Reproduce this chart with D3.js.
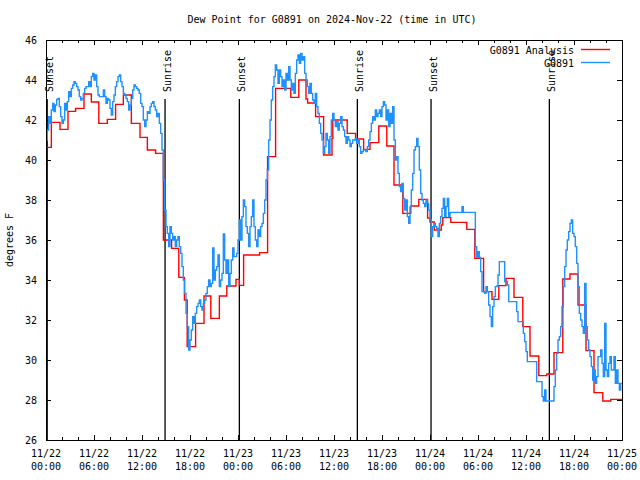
<!DOCTYPE html>
<html><head><meta charset="utf-8">
<script src="https://cdn.jsdelivr.net/npm/d3@7"></script>
<style>
body{margin:0;background:#fff}
svg text{font-family:"DejaVu Sans Mono","Liberation Mono",monospace;font-size:10px;fill:#000}
</style></head><body>
<svg id="chart" width="640" height="480"></svg>
<script>
// ---------- data ----------
const chartTitle = "Dew Point for G0891 on 2024-Nov-22 (time in UTC)";
const yAxisLabel = "degrees F";
const seriesNames = ["G0891 Analysis", "G0891"];
const seriesColors = ["#ff0000", "#1e90ff"];
const startUTC = Date.UTC(2024, 10, 22, 0, 0);
const endUTC = Date.UTC(2024, 10, 25, 0, 0);
const yTicks = [26, 28, 30, 32, 34, 36, 38, 40, 42, 44, 46];
const xTickHours = [0, 6, 12, 18, 24, 30, 36, 42, 48, 54, 60, 66, 72];
const xTickDates = ["11/22","11/22","11/22","11/22","11/23","11/23","11/23","11/23","11/24","11/24","11/24","11/24","11/25"];
const xTickTimes = ["00:00","06:00","12:00","18:00","00:00","06:00","12:00","18:00","00:00","06:00","12:00","18:00","00:00"];
const xMinorStepHours = 2;
const sunEventHours = [0.15, 14.88, 24.17, 38.92, 48.13, 62.92];
const sunEventLabels = ["Sunset", "Sunrise", "Sunset", "Sunrise", "Sunset", "Sunrise"];

// Analysis (hourly, stepped): hours since start, value
const analysisHours = [0, 0.67, 1.75, 2.75, 3.7, 4.75, 5.67, 6.6, 7.67, 8.7, 9.67, 10.67, 11.75, 12.67, 13.7,
  14.67, 15.7, 16.6, 17.3, 17.65, 18.7, 19.75, 20.6, 21.67, 22.6, 23.75, 24.17, 24.7, 26.7, 27.7, 28.7,
  30.6, 31.6, 32.5, 32.7, 33.7, 34.7, 35.75, 35.85, 37.65, 38.7, 39.7, 40.5, 41.6, 42.6, 43.5, 44.6, 45.6,
  46.6, 47.7, 48.0, 48.54, 49.4, 49.6, 50.6, 52.6, 53.6, 54.7, 55.75, 56.6, 57.5, 58.5, 59.6, 60.5,
  61.6, 62.6, 63.5, 64.6, 65.5, 66.5, 67.5, 68.5, 69.6, 70.6, 72];
const analysisValues = [40.63, 41.88, 41.53, 42.43, 42.58, 43.3, 42.9, 41.83, 42.03, 42.78, 43.25, 41.83, 41.13, 40.5, 40.33,
  36.0, 35.58, 34.13, 33.0, 30.67, 31.83, 33.2, 32.08, 33.2, 33.7, 34.03, 33.73, 35.25, 35.37, 40.17, 43.58,
  43.13, 44.0, 43.05, 42.85, 42.17, 40.25, 41.08, 42.0, 41.33, 41.05, 40.53, 40.87, 41.7, 40.7, 38.75, 37.33, 37.7,
  38.03, 37.1, 36.9, 36.5, 36.75, 37.12, 36.88, 36.53, 35.08, 33.42, 33.03, 33.72, 34.08, 33.13, 31.67, 30.2,
  29.22, 29.3, 30.37, 34.05, 34.3, 32.75, 30.47, 28.37, 27.95, 28.03, 28.03];

// Observations every 10 minutes from 00:00 UTC 11/22
const obsStepMinutes = 10;
const obsValues = [
  41.0, 41.5, 42.17, 41.83, 42.5, 42.83, 42.42, 42.75, 43.03, 43.08,
  42.67, 42.17, 41.83, 42.0, 42.83, 42.5, 42.92, 43.42, 43.17, 43.58,
  43.75, 43.92, 43.83, 43.67, 43.5, 43.17, 43.0, 43.08, 43.33, 43.58,
  43.67, 43.67, 43.92, 43.67, 44.17, 44.33, 44.0, 44.25, 43.67, 43.25,
  43.17, 43.17, 43.17, 43.5, 43.17, 42.83, 43.08, 43.0, 42.58, 42.25,
  42.92, 43.25, 43.67, 43.92, 44.17, 44.25, 43.92, 43.67, 43.33, 43.25,
  43.08, 42.92, 42.5, 42.75, 43.08, 43.5, 43.75, 43.67, 43.58, 43.5,
  43.33, 42.83, 42.67, 42.0, 41.67, 42.0, 42.42, 42.33, 42.67, 42.83,
  42.92, 42.67, 42.5, 42.17, 42.33, 41.83,
  41.33, 40.5, 39.0, 37.5, 36.67, 36.33, 35.67, 36.67, 36.33, 36.0,
  36.17, 35.67, 36.0, 36.17, 35.67, 35.33, 34.67, 34.0, 33.33, 32.33,
  31.67, 30.5, 31.0, 31.5, 32.17, 31.83, 32.33, 32.67, 32.83, 33.0,
  32.67, 32.5, 32.83, 33.0, 33.33, 33.67, 34.0, 33.67, 33.83, 35.6,
  34.0, 34.5, 34.67, 35.25, 33.67, 34.0, 34.33, 36.3, 35.0, 34.33,
  35.0, 33.67, 34.33, 35.0, 35.6, 35.17, 35.17, 35.33,
  36.0, 37.0, 36.0, 37.17, 38.0, 37.67, 36.67, 36.33, 35.67, 36.67,
  37.17, 38.0, 36.67, 36.0, 35.67, 36.5, 36.17, 36.67, 36.83, 37.33,
  38.0, 39.0, 39.5, 41.0, 42.0, 43.0, 43.67, 44.17, 44.75, 44.5,
  43.83, 44.5, 44.17, 43.67, 44.0, 43.5, 44.33, 44.0, 44.67, 44.0,
  43.5, 43.83, 43.33, 44.33, 45.0, 45.25, 44.83, 45.33, 45.0, 45.17,
  44.33, 44.0, 43.67, 43.33, 43.83, 43.33, 43.0, 42.83, 43.33, 42.67,
  42.33, 41.83, 41.33, 41.0, 40.33, 40.67, 41.33, 41.0, 40.33, 41.17,
  42.0, 42.33, 42.0, 41.67, 41.92, 41.5, 41.83, 42.17, 41.67, 41.5,
  41.17, 40.83, 41.17, 41.0, 40.67, 40.83, 41.0, 41.0, 41.08, 40.83,
  41.0, 40.67, 40.33, 40.42, 40.5, 40.5, 40.42, 40.67, 41.0, 41.42,
  41.83, 42.17, 42.0, 42.5, 42.17, 42.33, 42.5, 42.17, 42.67, 42.92,
  42.75, 42.0, 42.5, 41.67, 42.33, 41.83, 42.67, 41.0, 40.0, 40.17,
  39.33, 38.67, 38.42, 38.83, 38.08, 37.5, 38.0, 37.17, 36.83, 37.67,
  38.5, 39.33, 40.5, 40.67, 41.08, 40.67, 39.5, 38.33, 38.0, 37.83,
  37.67, 38.0, 37.83, 37.5, 37.0, 36.17, 36.67, 36.83, 36.67,
  36.58, 36.17, 36.83, 37.17, 37.58, 38.08, 37.17, 37.67, 38.08, 37.17, 37.37,
  37.38, 37.38, 37.38, 37.38, 37.38, 37.38, 37.38, 37.38, 37.67, 37.38,
  37.38, 37.38, 37.38, 37.38, 37.38, 37.38, 37.38, 37.38,
  35.67, 35.13, 35.42, 35.13, 34.42, 33.42, 33.42, 33.33, 33.67, 33.42,
  32.75, 32.17, 31.67, 32.67, 33.17, 33.67, 33.7, 34.25, 34.92, 34.92,
  34.92, 34.92, 33.92, 33.92, 33.75,
  32.92, 32.92, 32.92, 32.92, 32.92, 32.92, 32.42, 31.92, 31.92, 31.92, 31.92,
  31.33, 30.92, 30.42, 29.92, 29.92, 29.92, 29.92, 29.92, 29.92, 29.92,
  28.92, 28.92, 28.92, 28.92, 28.17, 27.95, 28.5, 27.95, 27.95, 27.95, 27.95, 27.95, 27.95,
  28.67, 29.5, 30.33, 31.0, 31.17, 31.67, 32.67, 33.67, 34.67, 35.5,
  36.0, 36.42, 36.83, 37.0, 36.33, 36.17, 35.67, 34.83, 33.67, 32.33,
  32.0, 31.67, 31.33, 33.83, 31.67, 31.0, 30.5, 30.17, 29.67, 29.0,
  29.5, 28.83, 29.17, 30.17, 30.17, 30.5, 29.83, 29.17, 31.83, 29.5,
  29.17, 29.83, 30.17, 29.5, 29.5, 30.17, 28.83, 29.5, 28.83, 28.5, 28.83, 28.83
];

// ---------- drawing ----------
const svg = d3.select("#chart");
const X0 = 46, X1 = 622, Y0 = 440, Y1 = 40;
const x = d3.scaleUtc().domain([new Date(startUTC), new Date(endUTC)]).range([X0, X1]);
const y = d3.scaleLinear().domain([26, 46]).range([Y0, Y1]);
const hourDate = h => new Date(startUTC + h * 3600000);

svg.append("rect").attr("width", 640).attr("height", 480).attr("fill", "#fff");

// title
svg.append("text").attr("x", 332).attr("y", 23).attr("text-anchor", "middle").text(chartTitle);

// axes
const majorDates = xTickHours.map(hourDate);
const minorDates = d3.range(0, 73, xMinorStepHours).filter(h => h % 6 !== 0).map(hourDate);
const tickStyle = g => { g.select(".domain").remove(); g.selectAll("line").attr("stroke", "#000").attr("shape-rendering", "crispEdges"); };

const gx = svg.append("g").attr("transform", `translate(0,${Y0})`)
  .call(d3.axisBottom(x).tickValues(majorDates).tickSize(-5).tickFormat(""));
gx.call(tickStyle);
gx.selectAll(".tick text").remove();
svg.append("g").attr("transform", `translate(0,${Y0})`)
  .call(d3.axisBottom(x).tickValues(minorDates).tickSize(-3).tickFormat("")).call(tickStyle);
svg.append("g").attr("transform", `translate(0,${Y1})`)
  .call(d3.axisTop(x).tickValues(majorDates).tickSize(-5).tickFormat("")).call(tickStyle);
svg.append("g").attr("transform", `translate(0,${Y1})`)
  .call(d3.axisTop(x).tickValues(minorDates).tickSize(-3).tickFormat("")).call(tickStyle);

// x labels (two lines)
const xl = svg.append("g");
majorDates.forEach((d, i) => {
  const t = xl.append("text").attr("text-anchor", "middle").attr("x", x(d));
  t.append("tspan").attr("x", x(d)).attr("y", Y0 + 17).text(xTickDates[i]);
  t.append("tspan").attr("x", x(d)).attr("y", Y0 + 30).text(xTickTimes[i]);
});

svg.append("g").attr("transform", `translate(${X0},0)`)
  .call(d3.axisLeft(y).tickValues(yTicks).tickSize(-5).tickPadding(9).tickFormat(d3.format("d")))
  .call(tickStyle)
  .call(g => g.selectAll("text").attr("font-size", 10).attr("font-family", "DejaVu Sans Mono"));
svg.append("g").attr("transform", `translate(${X1},0)`)
  .call(d3.axisRight(y).tickValues(yTicks).tickSize(-5).tickFormat("")).call(tickStyle);

// y label
svg.append("text").attr("transform", `translate(13,${(Y0 + Y1) / 2}) rotate(-90)`)
  .attr("text-anchor", "middle").text(yAxisLabel);

// sunrise/sunset markers
const sg = svg.append("g");
sunEventHours.forEach((h, i) => {
  const xp = x(hourDate(h));
  sg.append("line").attr("x1", xp).attr("x2", xp).attr("y1", 99).attr("y2", Y0)
    .attr("stroke", "#000").attr("stroke-width", 1.3);
  sg.append("text").attr("transform", `translate(${xp + 5.5},92) rotate(-90)`)
    .attr("text-anchor", "start").text(sunEventLabels[i]);
});

// series
const analysisData = analysisHours.map((h, i) => ({ t: hourDate(h), v: analysisValues[i] }));
const obsData = obsValues.map((v, i) => ({ t: new Date(startUTC + i * obsStepMinutes * 60000), v }));
const line = d3.line().x(d => x(d.t)).y(d => y(d.v)).curve(d3.curveStepAfter);

svg.append("path").datum(analysisData).attr("fill", "none")
  .attr("stroke", seriesColors[0]).attr("stroke-width", 1.4).attr("d", line);
svg.append("path").datum(obsData).attr("fill", "none")
  .attr("stroke", seriesColors[1]).attr("stroke-width", 1.4).attr("d", line);

// border
svg.append("rect").attr("x", X0).attr("y", Y1).attr("width", X1 - X0).attr("height", Y0 - Y1)
  .attr("fill", "none").attr("stroke", "#000").attr("shape-rendering", "crispEdges");

// legend
const lg = svg.append("g");
seriesNames.forEach((name, i) => {
  const yy = 50 + i * 13;
  lg.append("text").attr("x", 574).attr("y", yy + 4).attr("text-anchor", "end").text(name);
  lg.append("line").attr("x1", 581).attr("x2", 610).attr("y1", yy - 0.5).attr("y2", yy - 0.5)
    .attr("stroke", seriesColors[i]).attr("stroke-width", 1.4);
});
</script>
</body></html>
